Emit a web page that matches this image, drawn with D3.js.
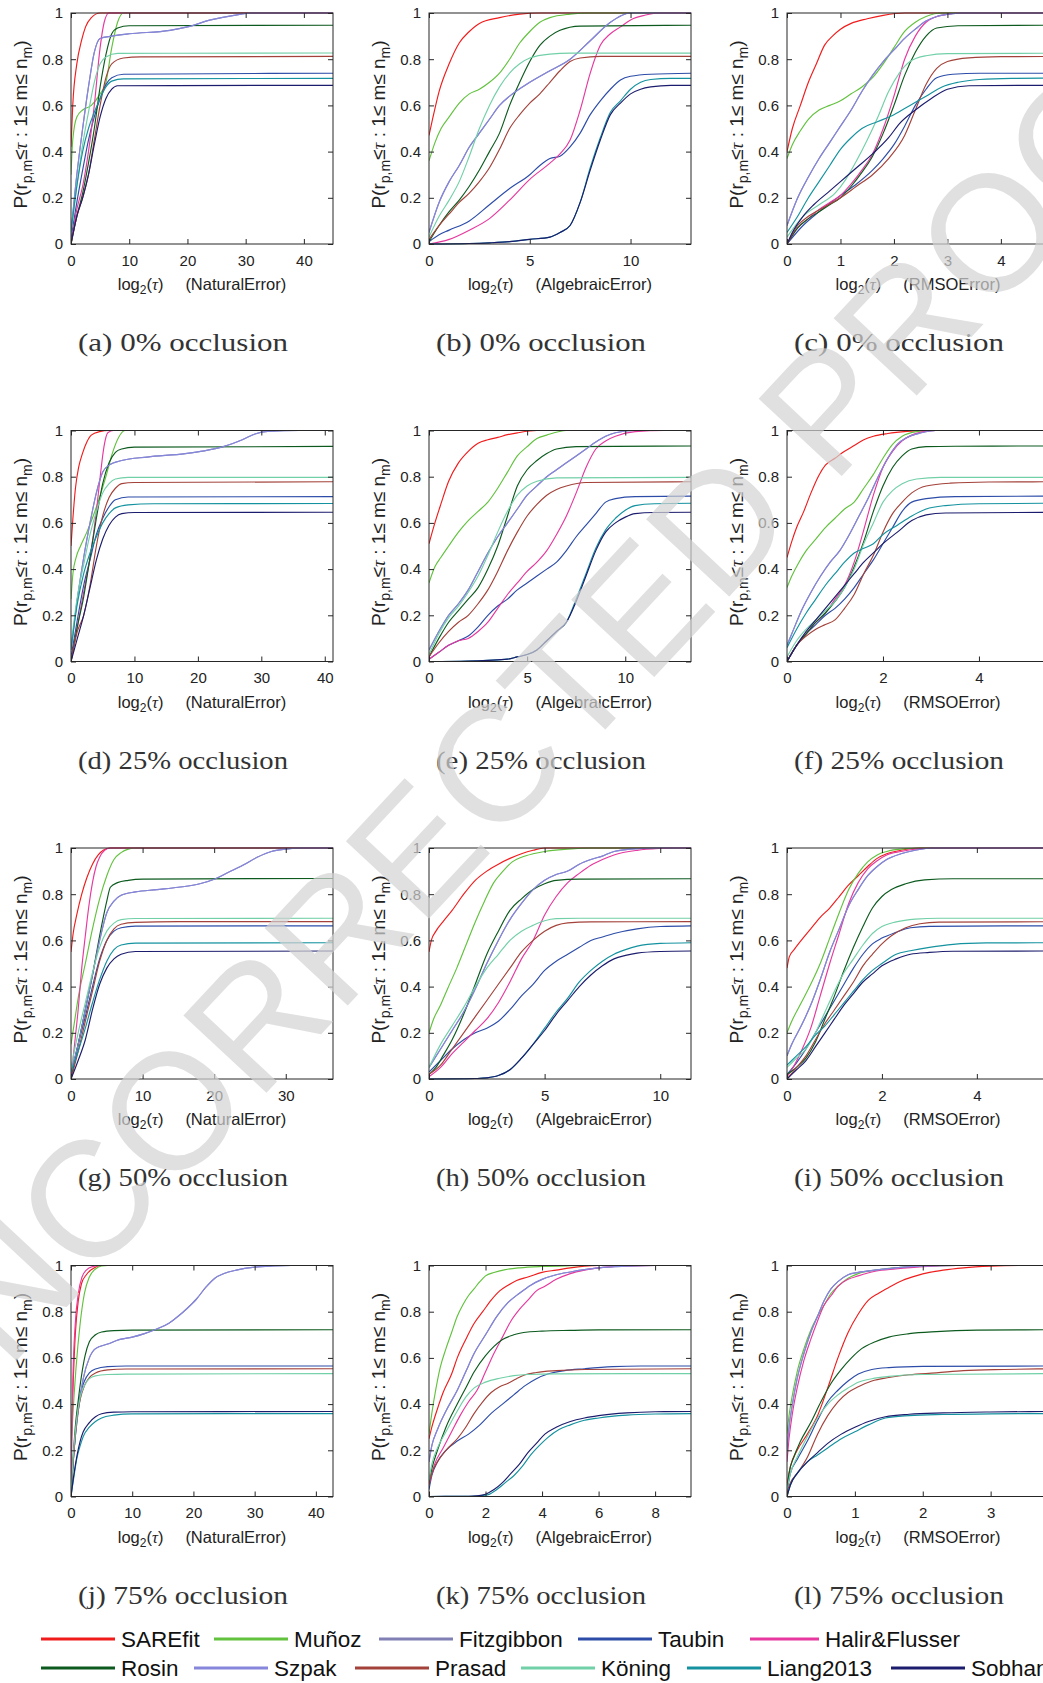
<!DOCTYPE html>
<html>
<head>
<meta charset="utf-8">
<script src="https://cdn.jsdelivr.net/npm/d3@7"></script>
<style>
body { margin: 0; background: #fff; }
svg text { font-family: "Liberation Sans", Arial, sans-serif; fill: #222; }
</style>
</head>
<body>
<div id="chart"></div>
<script>
// Performance profiles, 4 occlusion levels x 3 error measures
const seriesNames = ["SAREfit", "Muñoz", "Fitzgibbon", "Taubin", "Halir&Flusser",
    "Rosin", "Szpak", "Prasad", "Köning", "Liang2013", "Sobhan"];
const seriesColors = ["#f01c1c", "#62c23e", "#8080b4", "#2c4ca8", "#e6389e",
    "#0c5a1e", "#8686dc", "#a3423a", "#72d0a8", "#14929f", "#1c1c6e"];
const errorNames = ["NaturalError", "AlgebraicError", "RMSOError"];
const captions = ["(a) 0% occlusion", "(b) 0% occlusion", "(c) 0% occlusion",
    "(d) 25% occlusion", "(e) 25% occlusion", "(f) 25% occlusion",
    "(g) 50% occlusion", "(h) 50% occlusion", "(i) 50% occlusion",
    "(j) 75% occlusion", "(k) 75% occlusion", "(l) 75% occlusion"];
const xMax = [45, 13, 4.9, 41.3, 13.35, 5.46, 36.6, 11.33, 5.52, 42.8, 9.27, 3.86];
const xTicks = [[0, 10, 20, 30, 40], [0, 5, 10], [0, 1, 2, 3, 4],
    [0, 10, 20, 30, 40], [0, 5, 10], [0, 2, 4],
    [0, 10, 20, 30], [0, 5, 10], [0, 2, 4],
    [0, 10, 20, 30, 40], [0, 2, 4, 6, 8], [0, 1, 2, 3]];
const yTicks = [0, 0.2, 0.4, 0.6, 0.8, 1];

// One entry per series, in seriesNames order; points are [log2(tau), P].
// Fitzgibbon (null) lies under Szpak in every panel.
const natural0 = [
    [[0,0.42],[0.3,0.6],[1,0.78],[1.8,0.88],[2.5,0.94],[3.5,0.98],[5,1],[45,1]],
    [[0,0.3],[0.3,0.45],[1,0.55],[2,0.58],[3.5,0.6],[5,0.65],[6,0.7],[7,0.85],[8,0.96],[9,1],[45,1]],
    null,
    [[0,0.02],[1,0.18],[2,0.32],[3,0.45],[4,0.55],[5,0.63],[6,0.69],[7,0.72],[9,0.735],[45,0.739]],
    [[0,0],[1,0.15],[2,0.25],[3,0.4],[4,0.6],[5,0.85],[5.7,0.96],[6.5,1],[45,1]],
    [[0,0],[1,0.12],[2,0.22],[3,0.35],[4,0.5],[5,0.68],[6,0.82],[7,0.91],[8,0.935],[10,0.945],[45,0.947]],
    [[0,0.05],[1,0.3],[2,0.5],[3,0.68],[4,0.83],[5,0.89],[7,0.9],[10,0.91],[17,0.925],[20,0.94],[24,0.97],[28,0.99],[31,1],[45,1]],
    [[0,0],[1,0.12],[2,0.2],[3,0.3],[4,0.45],[5,0.6],[6,0.72],[7,0.78],[9,0.805],[12,0.81],[45,0.812]],
    [[0,0.05],[1,0.25],[2,0.43],[3,0.57],[4,0.7],[5,0.78],[6,0.81],[8,0.825],[45,0.827]],
    [[0,0.05],[1,0.25],[2,0.4],[3,0.5],[4,0.57],[5,0.63],[6,0.68],[7,0.705],[9,0.715],[45,0.717]],
    [[0,0],[1,0.12],[2,0.2],[3,0.3],[4,0.43],[5,0.55],[6,0.63],[7,0.67],[8,0.685],[45,0.687]]
];
const algebraic0 = [
    [[0,0.47],[0.2,0.55],[0.5,0.66],[1,0.78],[1.5,0.87],[2,0.92],[2.5,0.955],[3.5,0.98],[4.5,0.995],[5.5,1],[13,1]],
    [[0,0.36],[0.3,0.44],[0.6,0.5],[1,0.55],[1.5,0.61],[2,0.65],[2.5,0.67],[3,0.7],[3.5,0.74],[4,0.8],[4.5,0.87],[5,0.92],[5.5,0.96],[6,0.98],[7,0.995],[8,1],[13,1]],
    null,
    [[0,0.01],[0.5,0.04],[1,0.06],[2,0.1],[3,0.17],[4,0.24],[5,0.3],[5.5,0.34],[6,0.37],[6.5,0.38],[7,0.42],[7.5,0.48],[8,0.56],[8.5,0.62],[9,0.67],[9.5,0.71],[10,0.726],[11,0.735],[13,0.739]],
    [[0,0],[1,0.02],[2,0.06],[3,0.11],[4,0.19],[5,0.28],[6,0.35],[6.5,0.39],[7,0.45],[7.5,0.58],[8,0.74],[8.5,0.86],[9,0.91],[9.5,0.94],[10,0.97],[10.7,0.99],[11.5,1],[13,1]],
    [[0,0.01],[0.5,0.08],[1,0.14],[1.5,0.19],[2,0.25],[2.5,0.32],[3,0.4],[3.5,0.48],[4,0.6],[4.5,0.7],[5,0.79],[5.5,0.86],[6,0.9],[6.5,0.925],[7.5,0.943],[13,0.947]],
    [[0,0.05],[0.5,0.18],[1,0.27],[1.5,0.34],[2,0.42],[2.5,0.48],[3,0.54],[3.5,0.6],[4,0.64],[5,0.7],[6,0.75],[7,0.8],[8,0.88],[9,0.96],[10,1],[13,1]],
    [[0,0.02],[0.5,0.08],[1,0.13],[1.5,0.18],[2,0.22],[2.5,0.27],[3,0.33],[3.5,0.41],[4,0.5],[4.5,0.56],[5,0.61],[5.5,0.65],[6,0.7],[6.5,0.75],[7,0.79],[7.5,0.805],[8.5,0.812],[13,0.812]],
    [[0,0.03],[0.5,0.12],[1,0.19],[1.5,0.27],[2,0.38],[2.5,0.5],[3,0.6],[3.5,0.68],[4,0.74],[4.5,0.78],[5,0.805],[6,0.822],[7,0.826],[13,0.826]],
    [[0,0],[2,0.002],[3,0.005],[4,0.01],[5,0.02],[6,0.03],[6.5,0.05],[7,0.08],[7.5,0.18],[8,0.33],[8.5,0.46],[9,0.57],[9.5,0.62],[10,0.67],[10.5,0.7],[11,0.712],[12,0.717],[13,0.717]],
    [[0,0],[2,0.002],[3,0.005],[4,0.01],[5,0.02],[6,0.03],[6.5,0.05],[7,0.08],[7.5,0.18],[8,0.32],[8.5,0.45],[9,0.56],[9.5,0.61],[10,0.65],[10.5,0.67],[11,0.68],[12,0.687],[13,0.687]]
];
const rmso0 = [
    [[0,0.4],[0.1,0.5],[0.25,0.6],[0.4,0.7],[0.55,0.78],[0.7,0.86],[0.85,0.9],[1,0.93],[1.2,0.955],[1.5,0.975],[1.8,0.99],[2.2,1],[4.9,1]],
    [[0,0.37],[0.1,0.43],[0.25,0.49],[0.4,0.54],[0.6,0.58],[0.8,0.6],[1,0.62],[1.2,0.65],[1.4,0.68],[1.6,0.72],[1.8,0.78],[2,0.85],[2.2,0.92],[2.4,0.96],[2.6,0.985],[2.9,1],[4.9,1]],
    null,
    [[0,0],[0.3,0.08],[0.6,0.14],[1,0.21],[1.3,0.26],[1.6,0.32],[1.8,0.37],[2,0.43],[2.2,0.51],[2.4,0.6],[2.6,0.67],[2.8,0.72],[3.1,0.735],[3.6,0.739],[4.9,0.739]],
    [[0,0],[0.2,0.07],[0.4,0.11],[0.6,0.15],[0.8,0.18],[1,0.21],[1.2,0.26],[1.4,0.32],[1.6,0.39],[1.8,0.5],[2,0.64],[2.2,0.8],[2.4,0.9],[2.6,0.96],[2.9,0.99],[3.3,1],[4.9,1]],
    [[0,0],[0.2,0.07],[0.4,0.11],[0.6,0.14],[0.8,0.17],[1,0.2],[1.2,0.25],[1.4,0.31],[1.6,0.38],[1.8,0.48],[2,0.6],[2.2,0.73],[2.4,0.83],[2.6,0.9],[2.8,0.935],[3.2,0.945],[4.9,0.947]],
    [[0,0.08],[0.2,0.2],[0.4,0.29],[0.6,0.37],[0.8,0.44],[1,0.51],[1.2,0.58],[1.4,0.66],[1.6,0.73],[1.8,0.79],[2,0.84],[2.2,0.89],[2.4,0.93],[2.6,0.965],[2.8,0.985],[3.1,0.997],[3.3,1],[4.9,1]],
    [[0,0],[0.2,0.08],[0.4,0.12],[0.7,0.16],[1,0.2],[1.3,0.25],[1.6,0.3],[1.9,0.37],[2.2,0.47],[2.4,0.58],[2.6,0.69],[2.8,0.76],[3,0.79],[3.4,0.806],[4,0.811],[4.9,0.812]],
    [[0,0.03],[0.3,0.12],[0.6,0.17],[0.9,0.22],[1.1,0.28],[1.3,0.36],[1.5,0.45],[1.7,0.55],[1.9,0.66],[2.1,0.74],[2.3,0.79],[2.6,0.815],[3,0.824],[4.9,0.826]],
    [[0,0.05],[0.2,0.12],[0.4,0.2],[0.6,0.27],[0.8,0.34],[1,0.41],[1.2,0.46],[1.4,0.5],[1.7,0.53],[2,0.56],[2.3,0.6],[2.6,0.64],[2.9,0.68],[3.2,0.7],[3.6,0.712],[4.2,0.717],[4.9,0.718]],
    [[0,0],[0.1,0.05],[0.3,0.12],[0.5,0.17],[0.8,0.23],[1,0.27],[1.3,0.33],[1.6,0.39],[1.9,0.46],[2.1,0.52],[2.4,0.58],[2.7,0.63],[3,0.67],[3.4,0.685],[4.9,0.687]]
];
const natural25 = [
    [[0,0.5],[0.3,0.62],[0.7,0.75],[1.2,0.84],[1.8,0.9],[2.5,0.95],[3.2,0.98],[4.5,0.995],[6,1],[41.3,1]],
    [[0,0.27],[0.3,0.38],[0.8,0.45],[1.5,0.5],[2.5,0.56],[3.5,0.63],[4.5,0.71],[5.5,0.8],[6.5,0.9],[7.5,0.97],[8.5,1],[41.3,1]],
    null,
    [[0,0.02],[1,0.18],[2,0.33],[3,0.44],[4,0.55],[5,0.62],[6,0.67],[7,0.7],[9,0.712],[41.3,0.714]],
    [[0,0],[1,0.15],[2,0.3],[3,0.45],[4,0.65],[4.6,0.8],[5.2,0.93],[5.8,0.99],[6.7,1],[41.3,1]],
    [[0,0],[1,0.15],[2,0.28],[3,0.45],[4,0.62],[5,0.77],[6,0.86],[7,0.905],[8,0.92],[10,0.928],[41.3,0.931]],
    [[0,0.05],[1,0.27],[2,0.45],[3,0.6],[4,0.73],[5,0.82],[6,0.85],[8,0.87],[12,0.885],[18,0.9],[21,0.912],[24,0.93],[27,0.96],[29,0.985],[31,0.996],[36,1],[41.3,1]],
    [[0,0],[1,0.13],[2,0.2],[3,0.33],[4,0.5],[5,0.63],[6,0.71],[7,0.75],[8,0.77],[10,0.775],[41.3,0.778]],
    [[0,0.07],[1,0.28],[2,0.42],[3,0.55],[4,0.65],[5,0.73],[6,0.77],[7,0.79],[9,0.797],[41.3,0.797]],
    [[0,0.05],[1,0.25],[2,0.38],[3,0.47],[4,0.54],[5,0.6],[6,0.64],[7,0.665],[9,0.678],[13,0.683],[41.3,0.684]],
    [[0,0],[1,0.1],[2,0.2],[3,0.32],[4,0.44],[5,0.53],[6,0.59],[7,0.625],[8,0.64],[10,0.645],[41.3,0.646]]
];
const algebraic25 = [
    [[0,0.51],[0.3,0.6],[0.6,0.68],[1,0.78],[1.5,0.86],[2,0.91],[2.5,0.945],[3,0.96],[3.5,0.97],[4,0.982],[4.5,0.99],[5.5,1],[13.35,1]],
    [[0,0.34],[0.3,0.41],[0.6,0.45],[1,0.5],[1.5,0.56],[2,0.61],[2.5,0.65],[3,0.69],[3.5,0.75],[4,0.82],[4.5,0.89],[5,0.93],[5.5,0.965],[6,0.98],[7,1],[13.35,1]],
    null,
    [[0,0.01],[0.5,0.04],[1,0.07],[1.5,0.09],[2,0.11],[2.5,0.15],[3,0.2],[3.5,0.24],[4,0.27],[4.5,0.31],[5,0.34],[5.5,0.37],[6,0.4],[6.5,0.43],[7,0.48],[7.5,0.54],[8,0.59],[8.5,0.64],[9,0.69],[9.5,0.705],[10.5,0.714],[13.35,0.716]],
    [[0,0.01],[0.5,0.04],[1,0.07],[1.5,0.09],[2,0.1],[2.5,0.13],[3,0.17],[3.5,0.23],[4,0.29],[4.5,0.34],[5,0.39],[5.5,0.43],[6,0.48],[6.5,0.55],[7,0.63],[7.5,0.73],[8,0.84],[8.5,0.92],[9,0.955],[9.5,0.975],[10.5,0.995],[12,1],[13.35,1]],
    [[0,0.02],[0.5,0.1],[1,0.17],[1.5,0.22],[2,0.27],[2.5,0.32],[3,0.4],[3.5,0.5],[4,0.63],[4.5,0.76],[5,0.83],[5.5,0.87],[6,0.9],[6.5,0.92],[7.5,0.93],[13.35,0.933]],
    [[0,0.05],[0.5,0.13],[1,0.2],[1.5,0.25],[2,0.31],[2.5,0.39],[3,0.47],[3.5,0.54],[4,0.6],[4.5,0.66],[5,0.72],[5.5,0.76],[6,0.8],[6.5,0.83],[7,0.86],[7.5,0.89],[8,0.92],[8.5,0.95],[9,0.975],[9.5,0.99],[10.5,1],[13.35,1]],
    [[0,0.02],[0.5,0.08],[1,0.13],[1.5,0.17],[2,0.2],[2.5,0.25],[3,0.31],[3.5,0.39],[4,0.48],[4.5,0.56],[5,0.63],[5.5,0.68],[6,0.72],[6.5,0.745],[7,0.76],[8,0.775],[13.35,0.778]],
    [[0,0.03],[0.5,0.12],[1,0.19],[1.5,0.24],[2,0.3],[2.5,0.37],[3,0.46],[3.5,0.56],[4,0.65],[4.5,0.72],[5,0.76],[5.5,0.78],[6.5,0.795],[13.35,0.797]],
    [[0,0],[2,0.002],[3,0.005],[4,0.01],[4.5,0.02],[5,0.03],[5.5,0.05],[6,0.09],[6.5,0.13],[7,0.17],[7.5,0.27],[8,0.38],[8.5,0.49],[9,0.57],[9.5,0.62],[10,0.655],[10.5,0.675],[11.5,0.683],[13.35,0.685]],
    [[0,0],[2,0.002],[3,0.005],[4,0.01],[4.5,0.02],[5,0.03],[5.5,0.05],[6,0.09],[6.5,0.13],[7,0.17],[7.5,0.26],[8,0.37],[8.5,0.48],[9,0.56],[9.5,0.6],[10,0.625],[10.5,0.64],[11.5,0.645],[13.35,0.646]]
];
const rmso25 = [
    [[0,0.45],[0.1,0.52],[0.2,0.58],[0.35,0.65],[0.5,0.73],[0.65,0.8],[0.8,0.85],[1,0.88],[1.2,0.91],[1.4,0.935],[1.6,0.96],[1.8,0.975],[2.1,0.987],[2.5,0.996],[3,1],[5.46,1]],
    [[0,0.32],[0.1,0.37],[0.25,0.43],[0.4,0.48],[0.6,0.53],[0.8,0.58],[1,0.62],[1.2,0.66],[1.4,0.69],[1.6,0.75],[1.8,0.81],[2,0.88],[2.2,0.94],[2.4,0.975],[2.7,0.995],[3,1],[5.46,1]],
    null,
    [[0,0],[0.2,0.07],[0.4,0.12],[0.6,0.16],[0.8,0.2],[1,0.23],[1.2,0.27],[1.4,0.32],[1.6,0.38],[1.8,0.44],[2,0.51],[2.2,0.58],[2.4,0.65],[2.6,0.69],[2.9,0.705],[3.5,0.714],[5.46,0.716]],
    [[0,0],[0.2,0.07],[0.4,0.12],[0.6,0.17],[0.8,0.21],[1,0.27],[1.2,0.33],[1.4,0.43],[1.6,0.57],[1.8,0.72],[2,0.84],[2.2,0.91],[2.4,0.955],[2.6,0.98],[2.9,0.997],[3.1,1],[5.46,1]],
    [[0,0],[0.2,0.07],[0.4,0.12],[0.6,0.17],[0.8,0.21],[1,0.26],[1.2,0.32],[1.4,0.41],[1.6,0.52],[1.8,0.65],[2,0.76],[2.2,0.84],[2.4,0.89],[2.6,0.92],[2.9,0.93],[3.5,0.932],[5.46,0.933]],
    [[0,0.07],[0.1,0.12],[0.3,0.22],[0.5,0.3],[0.7,0.37],[0.9,0.43],[1.1,0.48],[1.3,0.55],[1.5,0.63],[1.7,0.71],[1.9,0.8],[2.1,0.88],[2.3,0.94],[2.5,0.97],[2.8,0.99],[3.1,1],[5.46,1]],
    [[0,0],[0.2,0.07],[0.4,0.11],[0.6,0.14],[0.8,0.16],[1,0.18],[1.2,0.23],[1.4,0.29],[1.6,0.38],[1.8,0.46],[2,0.56],[2.2,0.64],[2.4,0.69],[2.6,0.73],[2.9,0.76],[3.4,0.772],[4.2,0.777],[5.46,0.778]],
    [[0,0.02],[0.2,0.09],[0.4,0.14],[0.6,0.18],[0.8,0.22],[1,0.26],[1.2,0.32],[1.4,0.4],[1.6,0.51],[1.8,0.6],[2,0.69],[2.2,0.74],[2.4,0.77],[2.7,0.79],[3.2,0.797],[5.46,0.797]],
    [[0,0.06],[0.2,0.14],[0.4,0.21],[0.6,0.27],[0.8,0.33],[1,0.38],[1.2,0.43],[1.4,0.47],[1.6,0.49],[1.8,0.51],[2,0.55],[2.3,0.59],[2.6,0.63],[2.9,0.66],[3.3,0.675],[4,0.683],[5.46,0.685]],
    [[0,0],[0.2,0.07],[0.4,0.13],[0.6,0.18],[0.8,0.23],[1,0.28],[1.2,0.33],[1.4,0.38],[1.6,0.43],[1.8,0.47],[2,0.51],[2.3,0.56],[2.6,0.61],[2.9,0.635],[3.3,0.643],[5.46,0.646]]
];
const natural50 = [
    [[0,0.55],[0.3,0.63],[0.8,0.71],[1.5,0.8],[2.2,0.87],[3,0.93],[3.8,0.97],[4.5,0.99],[5.5,1],[36.6,1]],
    [[0,0.15],[0.5,0.25],[1,0.35],[2,0.5],[3,0.65],[4,0.78],[5,0.88],[6,0.95],[7,0.98],[8,0.995],[9,1],[36.6,1]],
    null,
    [[0,0.02],[1,0.15],[2,0.27],[3,0.4],[4,0.52],[5,0.6],[6,0.64],[7,0.655],[9,0.662],[36.6,0.663]],
    [[0,0],[0.5,0.15],[1,0.3],[1.5,0.48],[2,0.62],[2.5,0.75],[3,0.85],[3.5,0.92],[4,0.96],[4.7,0.99],[5.5,1],[36.6,1]],
    [[0,0],[1,0.15],[2,0.3],[3,0.45],[4,0.62],[5,0.77],[5.5,0.83],[6.5,0.85],[8,0.86],[10,0.865],[36.6,0.868]],
    [[0,0.03],[1,0.15],[2,0.3],[3,0.45],[4,0.6],[5,0.72],[6,0.77],[7,0.795],[9,0.81],[12,0.82],[15,0.83],[18,0.845],[20,0.865],[22,0.895],[24,0.925],[26,0.96],[28,0.985],[30,0.995],[32,1],[36.6,1]],
    [[0,0],[1,0.12],[2,0.25],[3,0.38],[4,0.51],[5,0.6],[6,0.65],[7,0.67],[9,0.678],[15,0.681],[36.6,0.681]],
    [[0,0.05],[1,0.2],[2,0.33],[3,0.46],[4,0.57],[5,0.64],[6,0.675],[7,0.69],[9,0.695],[36.6,0.696]],
    [[0,0.03],[1,0.12],[2,0.22],[3,0.33],[4,0.43],[5,0.51],[6,0.56],[7,0.58],[9,0.588],[36.6,0.59]],
    [[0,0],[1,0.08],[2,0.17],[3,0.3],[4,0.41],[5,0.48],[6,0.52],[7,0.54],[9,0.552],[36.6,0.554]]
];
const algebraic50 = [
    [[0,0.55],[0.1,0.6],[0.3,0.64],[0.6,0.68],[1,0.73],[1.5,0.8],[2,0.86],[2.5,0.9],[3,0.93],[3.5,0.955],[4,0.975],[4.5,0.99],[5,1],[11.33,1]],
    [[0,0.2],[0.2,0.26],[0.5,0.32],[0.8,0.39],[1.2,0.48],[1.6,0.58],[2,0.68],[2.4,0.77],[2.8,0.85],[3.2,0.9],[3.6,0.94],[4,0.96],[4.5,0.975],[5,0.985],[6,0.995],[7,1],[11.33,1]],
    null,
    [[0,0.03],[0.5,0.08],[1,0.13],[1.5,0.17],[2,0.2],[2.5,0.22],[3,0.25],[3.5,0.3],[4,0.36],[4.5,0.41],[5,0.47],[5.5,0.51],[6,0.54],[6.5,0.57],[7,0.6],[7.5,0.615],[8,0.63],[9,0.65],[10,0.66],[11.33,0.663]],
    [[0,0.01],[0.5,0.05],[1,0.11],[1.5,0.16],[2,0.21],[2.5,0.26],[3,0.33],[3.5,0.42],[4,0.52],[4.5,0.6],[5,0.71],[5.5,0.79],[6,0.85],[6.5,0.89],[7,0.925],[7.5,0.95],[8,0.97],[9,0.99],[10,0.998],[10.5,1],[11.33,1]],
    [[0,0.02],[0.3,0.05],[0.6,0.1],[1,0.17],[1.5,0.28],[2,0.41],[2.5,0.54],[3,0.64],[3.5,0.73],[4,0.78],[4.5,0.82],[5,0.845],[5.5,0.86],[6.5,0.865],[11.33,0.867]],
    [[0,0.05],[0.5,0.13],[1,0.21],[1.5,0.29],[2,0.39],[2.5,0.5],[3,0.6],[3.5,0.69],[4,0.76],[4.5,0.82],[5,0.86],[5.5,0.885],[6,0.9],[6.5,0.93],[7,0.95],[7.5,0.965],[8,0.985],[9,0.997],[10,1],[11.33,1]],
    [[0,0.02],[0.5,0.06],[1,0.13],[1.5,0.2],[2,0.27],[2.5,0.34],[3,0.41],[3.5,0.48],[4,0.55],[4.5,0.6],[5,0.64],[5.5,0.665],[6,0.676],[7,0.68],[11.33,0.681]],
    [[0,0.05],[0.5,0.15],[1,0.23],[1.5,0.31],[2,0.4],[2.5,0.48],[3,0.54],[3.5,0.6],[4,0.64],[4.5,0.665],[5,0.685],[5.5,0.694],[6.5,0.696],[11.33,0.696]],
    [[0,0],[1.5,0.001],[2,0.002],[2.5,0.005],[3,0.015],[3.5,0.04],[4,0.09],[4.5,0.15],[5,0.22],[5.5,0.29],[6,0.35],[6.5,0.42],[7,0.47],[7.5,0.51],[8,0.54],[8.5,0.56],[9,0.575],[10,0.587],[11.33,0.59]],
    [[0,0],[1.5,0.001],[2,0.002],[2.5,0.005],[3,0.015],[3.5,0.04],[4,0.09],[4.5,0.15],[5,0.21],[5.5,0.28],[6,0.34],[6.5,0.4],[7,0.45],[7.5,0.49],[8,0.52],[8.5,0.535],[9,0.545],[10,0.552],[11.33,0.554]]
];
const rmso50 = [
    [[0,0.48],[0.05,0.53],[0.15,0.56],[0.3,0.6],[0.5,0.65],[0.7,0.7],[0.9,0.74],[1.1,0.79],[1.3,0.84],[1.5,0.88],[1.7,0.92],[1.9,0.955],[2.1,0.975],[2.4,0.99],[2.8,1],[5.52,1]],
    [[0,0.2],[0.1,0.25],[0.3,0.33],[0.5,0.41],[0.7,0.5],[0.9,0.61],[1.1,0.72],[1.3,0.82],[1.5,0.89],[1.7,0.94],[1.9,0.97],[2.1,0.985],[2.5,0.997],[2.8,1],[5.52,1]],
    null,
    [[0,0.02],[0.2,0.07],[0.4,0.13],[0.6,0.2],[0.8,0.27],[1,0.34],[1.2,0.41],[1.4,0.48],[1.6,0.54],[1.8,0.585],[2,0.61],[2.3,0.635],[2.6,0.655],[3,0.661],[5.52,0.663]],
    [[0,0.01],[0.1,0.04],[0.3,0.12],[0.5,0.22],[0.7,0.36],[0.9,0.5],[1.1,0.63],[1.3,0.76],[1.5,0.85],[1.7,0.91],[1.9,0.945],[2.1,0.97],[2.4,0.985],[2.8,0.997],[3.1,1],[5.52,1]],
    [[0,0.02],[0.2,0.05],[0.4,0.09],[0.6,0.16],[0.8,0.26],[1,0.36],[1.2,0.47],[1.4,0.57],[1.6,0.66],[1.8,0.74],[2,0.79],[2.2,0.82],[2.5,0.845],[2.9,0.862],[3.5,0.867],[5.52,0.867]],
    [[0,0.1],[0.1,0.15],[0.3,0.23],[0.5,0.32],[0.7,0.43],[0.9,0.55],[1.1,0.65],[1.3,0.75],[1.5,0.82],[1.7,0.88],[1.9,0.92],[2.1,0.95],[2.4,0.975],[2.7,0.99],[3.1,1],[5.52,1]],
    [[0,0],[0.2,0.05],[0.4,0.1],[0.6,0.17],[0.8,0.24],[1,0.3],[1.2,0.36],[1.4,0.42],[1.6,0.49],[1.8,0.54],[2,0.585],[2.2,0.62],[2.5,0.655],[2.8,0.672],[3.2,0.679],[5.52,0.681]],
    [[0,0.05],[0.2,0.09],[0.4,0.13],[0.6,0.2],[0.8,0.29],[1,0.38],[1.2,0.46],[1.4,0.52],[1.6,0.58],[1.8,0.63],[2,0.66],[2.3,0.68],[2.7,0.692],[3.2,0.696],[5.52,0.696]],
    [[0,0.06],[0.2,0.1],[0.4,0.14],[0.6,0.19],[0.8,0.23],[1,0.28],[1.2,0.33],[1.4,0.38],[1.6,0.43],[1.8,0.47],[2,0.5],[2.3,0.54],[2.6,0.555],[3,0.57],[3.5,0.583],[4.2,0.589],[5.52,0.59]],
    [[0,0],[0.2,0.04],[0.4,0.08],[0.6,0.14],[0.8,0.2],[1,0.26],[1.2,0.32],[1.4,0.37],[1.6,0.42],[1.8,0.455],[2,0.49],[2.3,0.52],[2.6,0.54],[3,0.548],[3.5,0.553],[5.52,0.554]]
];
const natural75 = [
    [[0,0.2],[0.3,0.45],[0.7,0.7],[1.2,0.85],[1.7,0.92],[2.5,0.96],[3.5,0.985],[5,1],[42.8,1]],
    [[0,0.2],[0.3,0.35],[0.8,0.55],[1.5,0.75],[2.2,0.88],[3,0.95],[4,0.985],[5,0.998],[6,1],[42.8,1]],
    null,
    [[0,0],[0.5,0.2],[1,0.35],[1.5,0.44],[2.2,0.5],[3,0.535],[4,0.552],[6,0.562],[9,0.565],[42.8,0.565]],
    [[0,0],[0.3,0.5],[0.7,0.75],[1.2,0.88],[1.8,0.95],[2.5,0.98],[3.5,0.995],[5,1],[42.8,1]],
    [[0,0],[0.3,0.15],[0.7,0.3],[1.2,0.42],[1.7,0.52],[2.3,0.61],[3,0.67],[4,0.7],[5,0.712],[7,0.718],[10,0.72],[42.8,0.722]],
    [[0,0.03],[0.5,0.2],[1,0.33],[1.5,0.43],[2,0.51],[3,0.6],[4,0.64],[6,0.66],[8,0.68],[10,0.69],[12,0.705],[14,0.725],[16,0.75],[17.5,0.78],[19,0.815],[20.5,0.855],[22,0.905],[23.5,0.945],[25,0.965],[27,0.98],[30,0.993],[33,0.998],[36,1],[42.8,1]],
    [[0,0],[0.5,0.2],[1,0.34],[1.5,0.42],[2.2,0.48],[3,0.515],[4,0.535],[6,0.548],[9,0.552],[42.8,0.553]],
    [[0,0.02],[0.5,0.22],[1,0.35],[1.5,0.43],[2.2,0.48],[3,0.51],[4,0.522],[6,0.528],[9,0.53],[42.8,0.532]],
    [[0,0],[0.5,0.09],[1,0.17],[1.5,0.22],[2,0.26],[3,0.3],[4,0.325],[5,0.34],[7,0.352],[10,0.358],[42.8,0.359]],
    [[0,0],[0.5,0.1],[1,0.18],[1.5,0.24],[2,0.28],[3,0.32],[4,0.345],[5,0.358],[7,0.365],[10,0.367],[42.8,0.368]]
];
const algebraic75 = [
    [[0,0.25],[0.1,0.3],[0.3,0.38],[0.5,0.45],[0.8,0.53],[1,0.6],[1.3,0.68],[1.6,0.75],[1.9,0.8],[2.2,0.85],[2.5,0.89],[2.8,0.915],[3.1,0.935],[3.5,0.95],[4,0.97],[4.5,0.98],[5,0.99],[5.5,0.997],[6,1],[9.27,1]],
    [[0,0.27],[0.1,0.36],[0.25,0.47],[0.4,0.56],[0.6,0.64],[0.8,0.71],[1,0.78],[1.2,0.83],[1.4,0.87],[1.6,0.9],[1.8,0.93],[2,0.955],[2.3,0.97],[2.7,0.982],[3.2,0.99],[4,0.996],[5,0.999],[5.6,1],[9.27,1]],
    null,
    [[0,0.03],[0.1,0.09],[0.3,0.15],[0.6,0.2],[1,0.24],[1.4,0.27],[1.8,0.31],[2.2,0.36],[2.6,0.4],[3,0.44],[3.4,0.48],[3.8,0.51],[4.2,0.53],[4.8,0.545],[5.5,0.553],[6.5,0.562],[7.5,0.565],[9.27,0.565]],
    [[0,0.05],[0.2,0.14],[0.5,0.21],[0.8,0.28],[1.1,0.35],[1.4,0.41],[1.7,0.46],[2,0.54],[2.3,0.62],[2.6,0.69],[2.9,0.76],[3.2,0.81],[3.5,0.85],[3.8,0.89],[4.1,0.91],[4.5,0.94],[5,0.965],[5.5,0.98],[6,0.99],[7,0.998],[8,1],[9.27,1]],
    [[0,0.06],[0.1,0.12],[0.3,0.2],[0.6,0.3],[1,0.4],[1.3,0.47],[1.6,0.54],[2,0.61],[2.3,0.65],[2.6,0.68],[3,0.7],[3.5,0.712],[4,0.716],[5,0.719],[6,0.721],[9.27,0.722]],
    [[0,0.15],[0.1,0.22],[0.3,0.29],[0.6,0.37],[1,0.46],[1.3,0.54],[1.6,0.62],[2,0.7],[2.4,0.78],[2.8,0.84],[3.2,0.88],[3.6,0.915],[4,0.94],[4.5,0.96],[5,0.972],[5.5,0.982],[6,0.99],[7,0.997],[8,1],[9.27,1]],
    [[0,0.05],[0.1,0.1],[0.3,0.15],[0.6,0.2],[1,0.25],[1.3,0.3],[1.6,0.36],[1.9,0.41],[2.2,0.45],[2.5,0.475],[2.8,0.49],[3.1,0.51],[3.4,0.527],[3.8,0.537],[4.5,0.545],[5.5,0.55],[9.27,0.553]],
    [[0,0.07],[0.1,0.14],[0.3,0.21],[0.6,0.28],[1,0.37],[1.3,0.43],[1.6,0.47],[2,0.495],[2.5,0.512],[3,0.523],[3.5,0.528],[4.5,0.531],[9.27,0.532]],
    [[0,0],[1.5,0.001],[1.8,0.003],[2.1,0.008],[2.4,0.03],[2.7,0.06],[3,0.09],[3.3,0.13],[3.6,0.18],[3.9,0.22],[4.2,0.255],[4.6,0.29],[5,0.31],[5.5,0.33],[6,0.34],[7,0.352],[8,0.357],[9.27,0.359]],
    [[0,0],[1.4,0.001],[1.7,0.003],[2,0.01],[2.3,0.03],[2.6,0.06],[2.9,0.1],[3.2,0.14],[3.5,0.19],[3.8,0.23],[4.1,0.27],[4.5,0.3],[5,0.325],[5.5,0.34],[6,0.35],[7,0.362],[8,0.367],[9.27,0.368]]
];
const rmso75 = [
    [[0,0.05],[0.05,0.13],[0.15,0.2],[0.3,0.27],[0.45,0.35],[0.6,0.47],[0.75,0.6],[0.9,0.71],[1.05,0.79],[1.2,0.85],[1.35,0.88],[1.5,0.905],[1.7,0.935],[1.9,0.955],[2.1,0.97],[2.3,0.98],[2.6,0.99],[3,0.997],[3.5,1],[3.86,1]],
    [[0,0.27],[0.03,0.35],[0.08,0.44],[0.15,0.54],[0.25,0.64],[0.35,0.72],[0.45,0.78],[0.55,0.83],[0.65,0.88],[0.75,0.91],[0.9,0.945],[1.05,0.965],[1.3,0.98],[1.6,0.99],[2,0.997],[2.5,1],[3.86,1]],
    null,
    [[0,0.02],[0.05,0.1],[0.15,0.16],[0.3,0.24],[0.45,0.33],[0.6,0.41],[0.75,0.46],[0.9,0.5],[1.05,0.53],[1.25,0.55],[1.5,0.558],[2,0.563],[3.86,0.565]],
    [[0,0.15],[0.03,0.25],[0.08,0.36],[0.15,0.47],[0.25,0.59],[0.35,0.68],[0.45,0.76],[0.55,0.83],[0.65,0.87],[0.75,0.91],[0.9,0.94],[1.05,0.955],[1.3,0.975],[1.6,0.985],[2,0.995],[2.5,1],[3.86,1]],
    [[0,0.02],[0.03,0.1],[0.1,0.17],[0.2,0.24],[0.35,0.32],[0.5,0.41],[0.65,0.49],[0.8,0.55],[0.95,0.6],[1.1,0.64],[1.3,0.67],[1.5,0.69],[1.8,0.705],[2.2,0.714],[2.8,0.72],[3.86,0.722]],
    [[0,0.2],[0.03,0.3],[0.08,0.4],[0.15,0.51],[0.25,0.62],[0.35,0.71],[0.45,0.78],[0.55,0.85],[0.65,0.9],[0.75,0.93],[0.9,0.96],[1.05,0.97],[1.3,0.98],[1.6,0.99],[2,0.997],[2.5,1],[3.86,1]],
    [[0,0.02],[0.05,0.06],[0.15,0.1],[0.3,0.17],[0.45,0.27],[0.6,0.35],[0.75,0.41],[0.9,0.45],[1.05,0.475],[1.25,0.5],[1.5,0.515],[1.8,0.527],[2.2,0.535],[2.6,0.545],[3.2,0.55],[3.86,0.553]],
    [[0,0.03],[0.05,0.1],[0.15,0.17],[0.3,0.26],[0.45,0.34],[0.6,0.4],[0.75,0.44],[0.9,0.47],[1.05,0.495],[1.25,0.51],[1.5,0.52],[2,0.528],[3.86,0.532]],
    [[0,0],[0.05,0.05],[0.15,0.1],[0.3,0.15],[0.45,0.18],[0.6,0.21],[0.8,0.25],[1,0.28],[1.2,0.31],[1.45,0.34],[1.8,0.35],[2.3,0.355],[3,0.358],[3.86,0.359]],
    [[0,0],[0.05,0.05],[0.15,0.1],[0.3,0.15],[0.45,0.19],[0.6,0.23],[0.8,0.27],[1,0.3],[1.2,0.325],[1.45,0.345],[1.8,0.356],[2.3,0.362],[3,0.366],[3.86,0.368]]
];

const panels = [natural0, algebraic0, rmso0, natural25, algebraic25, rmso25,
    natural50, algebraic50, rmso50, natural75, algebraic75, rmso75];

const width = 1043, height = 1683;
const plotW = 262, plotH = 231;
const colLeft = [71, 429, 787];
const rowTop = [13, 430.5, 848, 1265.5];
const szpakIndex = seriesNames.indexOf("Szpak");

const svg = d3.select("#chart")
    .append("svg")
    .attr("width", width)
    .attr("height", height);

const axisColor = "#262626";

panels.forEach(function(curves, p) {
    const col = p % 3;
    const row = Math.floor(p / 3);
    const left = colLeft[col];
    const top = rowTop[row];

    const x = d3.scaleLinear().domain([0, xMax[p]]).range([left, left + plotW]);
    const y = d3.scaleLinear().domain([0, 1]).range([top + plotH, top]);

    const g = svg.append("g").attr("class", "panel");

    g.append("clipPath")
        .attr("id", "clip" + p)
        .append("rect")
        .attr("x", left).attr("y", top - 1)
        .attr("width", plotW).attr("height", plotH + 2);

    const line = d3.line()
        .x(d => x(d[0]))
        .y(d => y(d[1]))
        .curve(d3.curveMonotoneX);

    const plotted = curves.map((pts, i) => ({
        name: seriesNames[i],
        color: seriesColors[i],
        points: pts || curves[szpakIndex]
    }));

    g.append("g")
        .attr("clip-path", `url(#clip${p})`)
        .selectAll("path")
        .data(plotted)
        .enter()
        .append("path")
        .attr("d", d => line(d.points))
        .attr("fill", "none")
        .attr("stroke", d => d.color)
        .attr("stroke-width", 1.15);

    // box with inward ticks on all four sides
    const bottomAxis = d3.axisBottom(x).tickValues(xTicks[p]).tickSize(-5).tickPadding(11)
        .tickFormat(d3.format("d"));
    const topAxis = d3.axisTop(x).tickValues(xTicks[p]).tickSize(-5).tickFormat("");
    const leftAxis = d3.axisLeft(y).tickValues(yTicks).tickSize(-5).tickPadding(8)
        .tickFormat(d => d === 0 || d === 1 ? String(d) : d3.format(".1f")(d));
    const rightAxis = d3.axisRight(y).tickValues(yTicks).tickSize(-5).tickFormat("");

    [[bottomAxis, `translate(0,${top + plotH})`], [topAxis, `translate(0,${top})`],
     [leftAxis, `translate(${left},0)`], [rightAxis, `translate(${left + plotW},0)`]]
        .forEach(function([ax, tr]) {
            const a = g.append("g").attr("transform", tr).call(ax);
            a.select(".domain").remove();
            a.selectAll(".tick line").attr("stroke", axisColor);
            a.selectAll(".tick text")
                .attr("font-family", "Liberation Sans, Arial, sans-serif")
                .attr("font-size", 15)
                .attr("fill", axisColor);
        });

    g.append("rect")
        .attr("x", left).attr("y", top)
        .attr("width", plotW).attr("height", plotH)
        .attr("fill", "none")
        .attr("stroke", axisColor)
        .attr("stroke-width", 1);

    // x label
    const xl = g.append("text")
        .attr("x", left + plotW / 2)
        .attr("y", top + plotH + 46)
        .attr("text-anchor", "middle")
        .style("font-size", "16.5px");
    xl.append("tspan").text("log");
    xl.append("tspan").attr("dy", 4).style("font-size", "12px").text("2");
    xl.append("tspan").attr("dy", -4).text("(");
    xl.append("tspan").style("font-family", "Liberation Serif").style("font-style", "italic").text("τ");
    xl.append("tspan").text(")");
    xl.append("tspan").attr("dx", 22).text("(" + errorNames[col] + ")");

    // y label
    const yl = g.append("text")
        .attr("transform", `translate(${left - 44},${top + plotH / 2 - 4}) rotate(-90)`)
        .attr("text-anchor", "middle")
        .style("font-size", "19px");
    yl.append("tspan").text("P(r");
    yl.append("tspan").attr("dy", 5).style("font-size", "14px").text("p,m");
    yl.append("tspan").attr("dy", -5).text("≤");
    yl.append("tspan").style("font-family", "Liberation Serif").style("font-style", "italic").text("τ");
    yl.append("tspan").text(" : 1≤ m≤ n");
    yl.append("tspan").attr("dy", 5).style("font-size", "14px").text("m");
    yl.append("tspan").attr("dy", -5).text(")");

    // caption
    g.append("text")
        .attr("x", left + 112)
        .attr("y", top + plotH + 107)
        .attr("text-anchor", "middle")
        .attr("textLength", 210)
        .attr("lengthAdjust", "spacingAndGlyphs")
        .style("font-family", "Liberation Serif, serif")
        .style("font-size", "26px")
        .style("fill", "#333")
        .text(captions[p]);
});

// legend
const legendSlots = [[41, 1639], [214, 1639], [379, 1639], [578, 1639], [750, 1639],
    [41, 1668], [194, 1668], [355, 1668], [521, 1668], [687, 1668], [891, 1668]];
const legend = svg.append("g").attr("class", "legend");
seriesNames.forEach(function(name, i) {
    const [lx, ly] = legendSlots[i];
    const len = i === 4 ? 69 : 74;
    legend.append("line")
        .attr("x1", lx).attr("x2", lx + len)
        .attr("y1", ly).attr("y2", ly)
        .attr("stroke", seriesColors[i])
        .attr("stroke-width", 3);
    legend.append("text")
        .attr("x", lx + len + 6)
        .attr("y", ly + 8)
        .style("font-size", "22.5px")
        .style("fill", "#111")
        .text(name);
});

// proof watermark
svg.append("text")
    .attr("transform", "translate(-74,1458) rotate(-47)")
    .style("font-family", "Liberation Sans, Arial, sans-serif")
    .style("font-size", "165px")
    .style("fill", "#d3d3d3")
    .style("opacity", 0.7)
    .text("UNCORRECTED PROOF");
</script>
</body>
</html>
